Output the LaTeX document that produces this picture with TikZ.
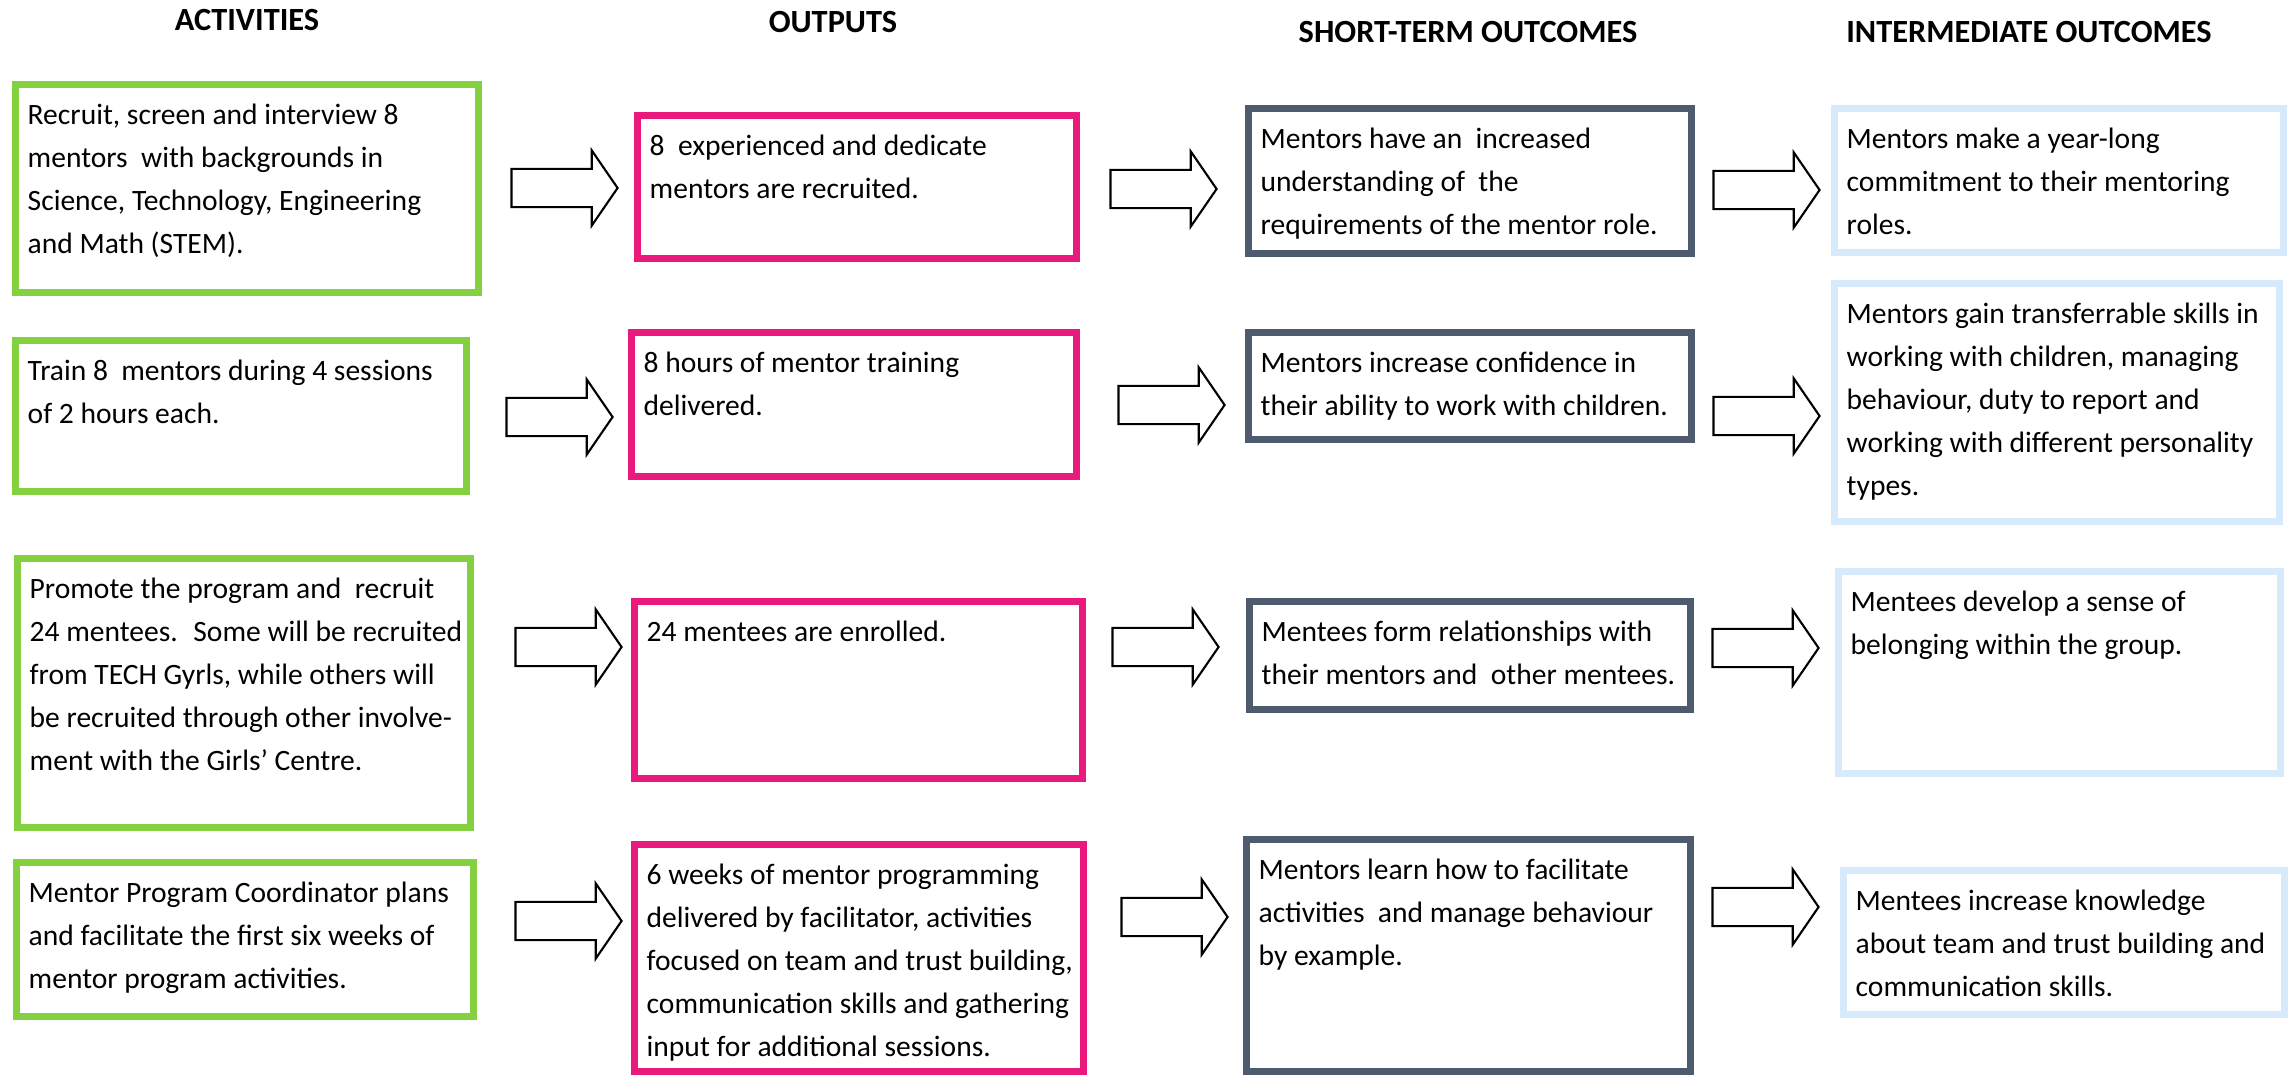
\documentclass[tikz,border=0pt]{standalone}
\usepackage{fontspec}
\setmainfont{Carlito}
\usepackage{xcolor}
\usepackage{tikz}
\usetikzlibrary{shapes.arrows,positioning}
\definecolor{actgreen}{HTML}{84D040}
\definecolor{outpink}{HTML}{E91A7B}
\definecolor{stslate}{HTML}{4E5A6E}
\definecolor{imblue}{HTML}{D6EAFC}
\tikzset{
  box/.style={rectangle, line width=0.07cm, inner sep=0pt, fill=white},
  actbox/.style={box, draw=actgreen},
  outbox/.style={box, draw=outpink},
  stbox/.style={box, draw=stslate},
  imbox/.style={box, draw=imblue},
  txt/.style={anchor=north west, align=left, inner sep=0pt, font=\fontsize{8.4}{12.2}\selectfont},
  head/.style={anchor=base, inner sep=0pt, font=\fontsize{9.2}{10}\selectfont\bfseries},
  flow/.style={single arrow, draw=black, line width=0.6pt, fill=white,
    inner xsep=0pt, inner ysep=0.18cm,
    minimum height=1.06cm, minimum width=0.73cm, single arrow head extend=0.185cm,
    single arrow tip angle=111},
}
% box: name, style, outer corners in px, text
\newcommand{\lmbox}[7]{%
  \node[#2, minimum width={(#5-#3-7)*0.01cm}, minimum height={(#6-#4-7)*0.01cm}]
    (#1) at ({(#3+#5)/2},{(#4+#6)/2}) {};
  \node[txt] (#1t) at (#3+15,#4+13) {\strut #7};
}

\begin{document}
\begin{tikzpicture}[x=0.01cm, y=-0.01cm]
  \useasboundingbox (0,0) rectangle (2290,1079);
  % column heads
  \node[head] (hact) at (247,31) {ACTIVITIES};
  \node[head] (hout) at (833,33) {OUTPUTS};
  \node[head] (hst) at (1468,43) {SHORT-TERM OUTCOMES};
  \node[head] (him) at (2029,43) {INTERMEDIATE OUTCOMES};

  % row 1
  \lmbox{act1}{actbox}{12}{81}{482}{296}{Recruit, screen and interview 8\\mentors~ with backgrounds in\\Science, Technology, Engineering\\and Math (STEM).}
  \lmbox{out1}{outbox}{634}{112}{1080}{262}{8~ experienced and dedicate\\mentors are recruited.}
  \lmbox{st1}{stbox}{1245}{105}{1695}{257}{Mentors have an~ increased\\understanding of~ the\\requirements of the mentor role.}
  \lmbox{im1}{imbox}{1831}{105}{2287}{256}{Mentors make a year-long\\commitment to their mentoring\\roles.}

  % row 2
  \lmbox{act2}{actbox}{12}{337}{470}{495}{Train 8~ mentors during 4 sessions\\of 2 hours each.}
  \lmbox{out2}{outbox}{628}{329}{1080}{480}{8 hours of mentor training\\delivered.}
  \lmbox{st2}{stbox}{1245}{329}{1695}{443}{Mentors increase confidence in\\their ability to work with children.}
  \lmbox{im2}{imbox}{1831}{280}{2283}{525}{Mentors gain transferrable skills in\\working with children, managing\\behaviour, duty to report and\\working with different personality\\types.}

  % row 3
  \lmbox{act3}{actbox}{14}{555}{474}{831}{Promote the program and~ recruit\\24 mentees.~ Some will be recruited\\from TECH Gyrls, while others will\\be recruited through other involve-\\ment with the Girls’ Centre.}
  \lmbox{out3}{outbox}{631}{598}{1086}{782}{24 mentees are enrolled.}
  \lmbox{st3}{stbox}{1246}{598}{1694}{713}{Mentees form relationships with\\their mentors and~ other mentees.}
  \lmbox{im3}{imbox}{1835}{568}{2284}{777}{Mentees develop a sense of\\belonging within the group.}

  % row 4
  \lmbox{act4}{actbox}{13}{859}{477}{1020}{Mentor Program Coordinator plans\\and facilitate the first six weeks of\\mentor program activities.}
  \lmbox{out4}{outbox}{631}{841}{1087}{1075}{6 weeks of mentor programming\\delivered by facilitator, activities\\focused on team and trust building,\\communication skills and gathering\\input for additional sessions.}
  \lmbox{st4}{stbox}{1243}{836}{1694}{1075}{Mentors learn how to facilitate\\activities~ and manage behaviour\\by example.}
  \lmbox{im4}{imbox}{1840}{867}{2288}{1018}{Mentees increase knowledge\\about team and trust building and\\communication skills.}

  % block arrows
  \node[flow] (f1a) at (558,188) {};
  \node[flow] (f1b) at (1157,189) {};
  \node[flow] (f1c) at (1760,190) {};
  \node[flow] (f2a) at (553,417) {};
  \node[flow] (f2b) at (1165,405) {};
  \node[flow] (f2c) at (1760,416) {};
  \node[flow] (f3a) at (562,647) {};
  \node[flow] (f3b) at (1159,647) {};
  \node[flow] (f3c) at (1759,648) {};
  \node[flow] (f4a) at (562,921) {};
  \node[flow] (f4b) at (1168,917) {};
  \node[flow] (f4c) at (1759,907) {};
\end{tikzpicture}
\end{document}
